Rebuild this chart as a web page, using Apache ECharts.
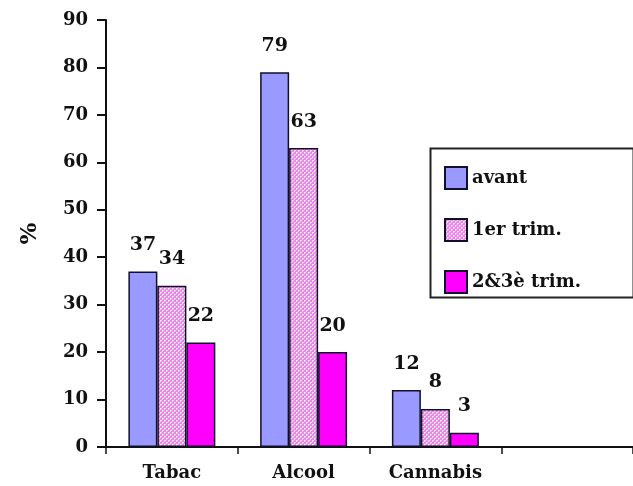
<!DOCTYPE html>
<html><head><meta charset="utf-8">
<script src="https://cdn.jsdelivr.net/npm/echarts@6/dist/echarts.min.js"></script>
<style>html,body{margin:0;padding:0;background:#fff}#c{width:633px;height:486px}</style>
</head><body><div id="c"></div>
<script>
var categories = ['Tabac', 'Alcool', 'Cannabis', ''];
var seriesNames = ['avant', '1er trim.', '2&3è trim.'];
var avant = [37, 79, 12, '-'];
var trim1 = [34, 63, 8, '-'];
var trim23 = [22, 20, 3, '-'];
var yTicks = [0, 10, 20, 30, 40, 50, 60, 70, 80, 90];

var pc = document.createElement('canvas');
pc.width = 4; pc.height = 4;
var g = pc.getContext('2d');
g.fillStyle = '#ea86ea'; g.fillRect(0, 0, 4, 4);
g.fillStyle = '#ffffff';
g.fillRect(0, 0, 1, 1); g.fillRect(2, 2, 1, 1);
g.fillStyle = '#f8d0f8';
g.fillRect(1, 0, 1, 1); g.fillRect(0, 1, 1, 1);
g.fillRect(3, 2, 1, 1); g.fillRect(2, 3, 1, 1);

var font = '"DejaVu Serif", "Liberation Serif", serif';
var chart = echarts.init(document.getElementById('c'));
var border = '#10102a';
function mk(name, data, color) {
  return {
    name: name, type: 'bar', data: data, barGap: '0%', barCategoryGap: '34%',
    itemStyle: { color: color, borderColor: border, borderWidth: 1.5 },
    label: { show: true, position: 'top', distance: 17, color: '#111', fontFamily: font, fontWeight: 'bold', fontSize: 19 }
  };
}
chart.setOption({
  animation: false,
  textStyle: { fontFamily: font },
  grid: { left: 106, right: -8, top: 20, bottom: 39, containLabel: false },
  xAxis: {
    type: 'category', data: categories,
    axisLine: { lineStyle: { color: '#111', width: 2 } },
    axisTick: { show: true, length: 7, lineStyle: { color: '#111', width: 1.5 } },
    axisLabel: { color: '#111', fontFamily: font, fontWeight: 'bold', fontSize: 18, margin: 17 }
  },
  yAxis: {
    type: 'value', min: yTicks[0], max: yTicks[yTicks.length - 1], interval: 10,
    name: '%', nameLocation: 'middle', nameGap: 64, nameRotate: 90,
    nameTextStyle: { color: '#111', fontFamily: font, fontWeight: 'bold', fontSize: 23 },
    axisLine: { show: true, lineStyle: { color: '#111', width: 2 } },
    axisTick: { show: true, length: 9, lineStyle: { color: '#111', width: 2 } },
    axisLabel: { color: '#111', fontFamily: font, fontWeight: 'bold', fontSize: 18, margin: 18 },
    splitLine: { show: false }
  },
  legend: {
    orient: 'vertical', left: 439, top: 161, itemWidth: 22, itemHeight: 22, itemGap: 28,
    icon: 'rect',
    textStyle: { color: '#111', fontFamily: font, fontWeight: 'bold', fontSize: 18, padding: [0, 0, 0, 0] },
    data: seriesNames
  },
  graphic: [{
    type: 'rect', left: 428, top: 146, shape: { width: 203, height: 149 },
    style: { fill: 'none', stroke: '#222', lineWidth: 2 }, z: 0
  }],
  series: [
    mk(seriesNames[0], avant, '#9999ff'),
    mk(seriesNames[1], trim1, { image: pc, repeat: 'repeat' }),
    mk(seriesNames[2], trim23, '#ff00ff')
  ]
});
</script></body></html>
